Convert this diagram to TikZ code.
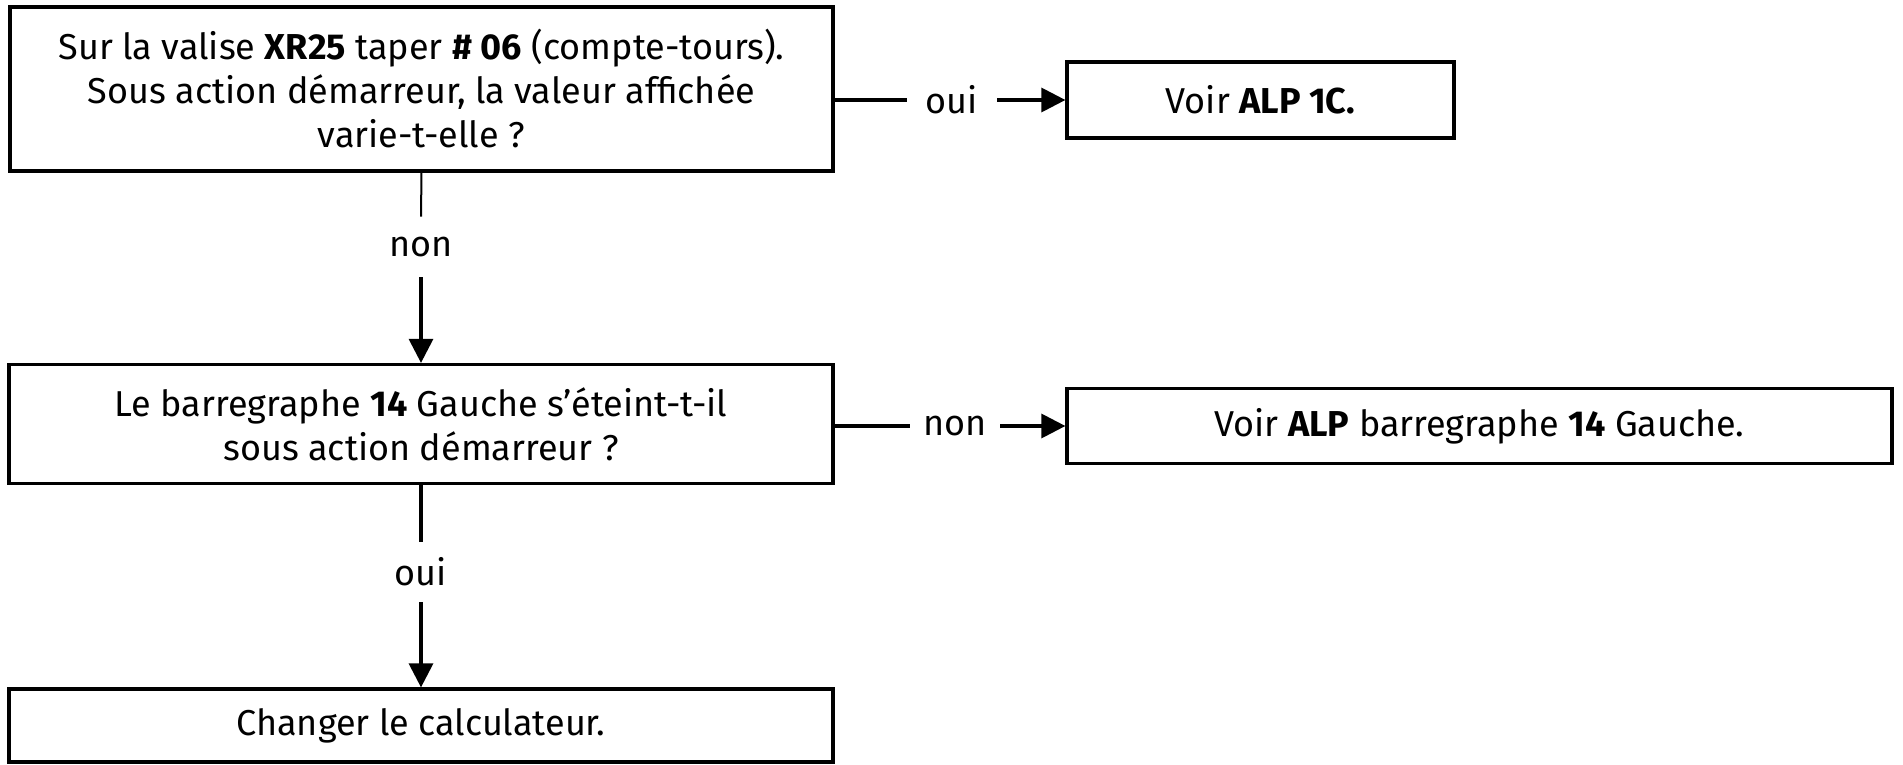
\documentclass[tikz,border=0pt]{standalone}
\usepackage{fontspec}
\setmainfont{Fira Sans}
\usetikzlibrary{arrows.meta}
\begin{document}
\begin{tikzpicture}[x=0.5pt,y=-0.5pt,
  font=\fontsize{18}{22}\selectfont,
  stepbox/.style={draw, line width=1.6pt, align=center, inner sep=0pt},
  lbl/.style={inner sep=0pt, minimum width=45pt, minimum height=30pt},
  link/.style={line width=1.6pt},
  arr/.style={line width=1.6pt, -{Triangle[length=12pt,width=12pt]}}]
  \useasboundingbox (0,0) rectangle (1903,765);

  % decision and action boxes
  \node[stepbox, minimum width=411.5pt, minimum height=82pt] (q1) at (421.5,89)
    {Sur la valise \textbf{XR25} taper \textbf{\# 06} (compte-tours).\\
     Sous action démarreur, la valeur affichée\\ varie-t-elle ?};
  \node[stepbox, minimum width=193.5pt, minimum height=38pt] (a1) at (1260.5,100)
    {Voir \textbf{ALP 1C.}};
  \node[stepbox, minimum width=412pt, minimum height=59.5pt] (q2) at (421,424)
    {Le barregraphe \textbf{14} Gauche s’éteint-t-il\\ sous action démarreur ?};
  \node[stepbox, minimum width=412.5pt, minimum height=37.5pt] (a2) at (1479.5,426)
    {Voir \textbf{ALP} barregraphe \textbf{14} Gauche.};
  \node[stepbox, minimum width=412pt, minimum height=36.5pt] (a3) at (421,725.5)
    {Changer le calculateur.};

  % branch labels
  \node[lbl] (l1) at (421,247) {non};
  \node[lbl] (l2) at (952,100) {oui};
  \node[lbl] (l3) at (421,572) {oui};
  \node[lbl] (l4) at (955,426) {non};

  % connectors
  \draw[line width=1pt] (q1.south) -- (l1.north);
  \draw[arr] (l1.south) -- (q2.north);
  \draw[link] (l2.west -| q1.east) -- (l2.west);
  \draw[arr] (l2.east) -- (a1.west);
  \draw[link] (q2.south) -- (l3.north);
  \draw[arr] (l3.south) -- (a3.north);
  \draw[link] (l4.west -| q2.east) -- (l4.west);
  \draw[arr] (l4.east) -- (a2.west);
\end{tikzpicture}
\end{document}
